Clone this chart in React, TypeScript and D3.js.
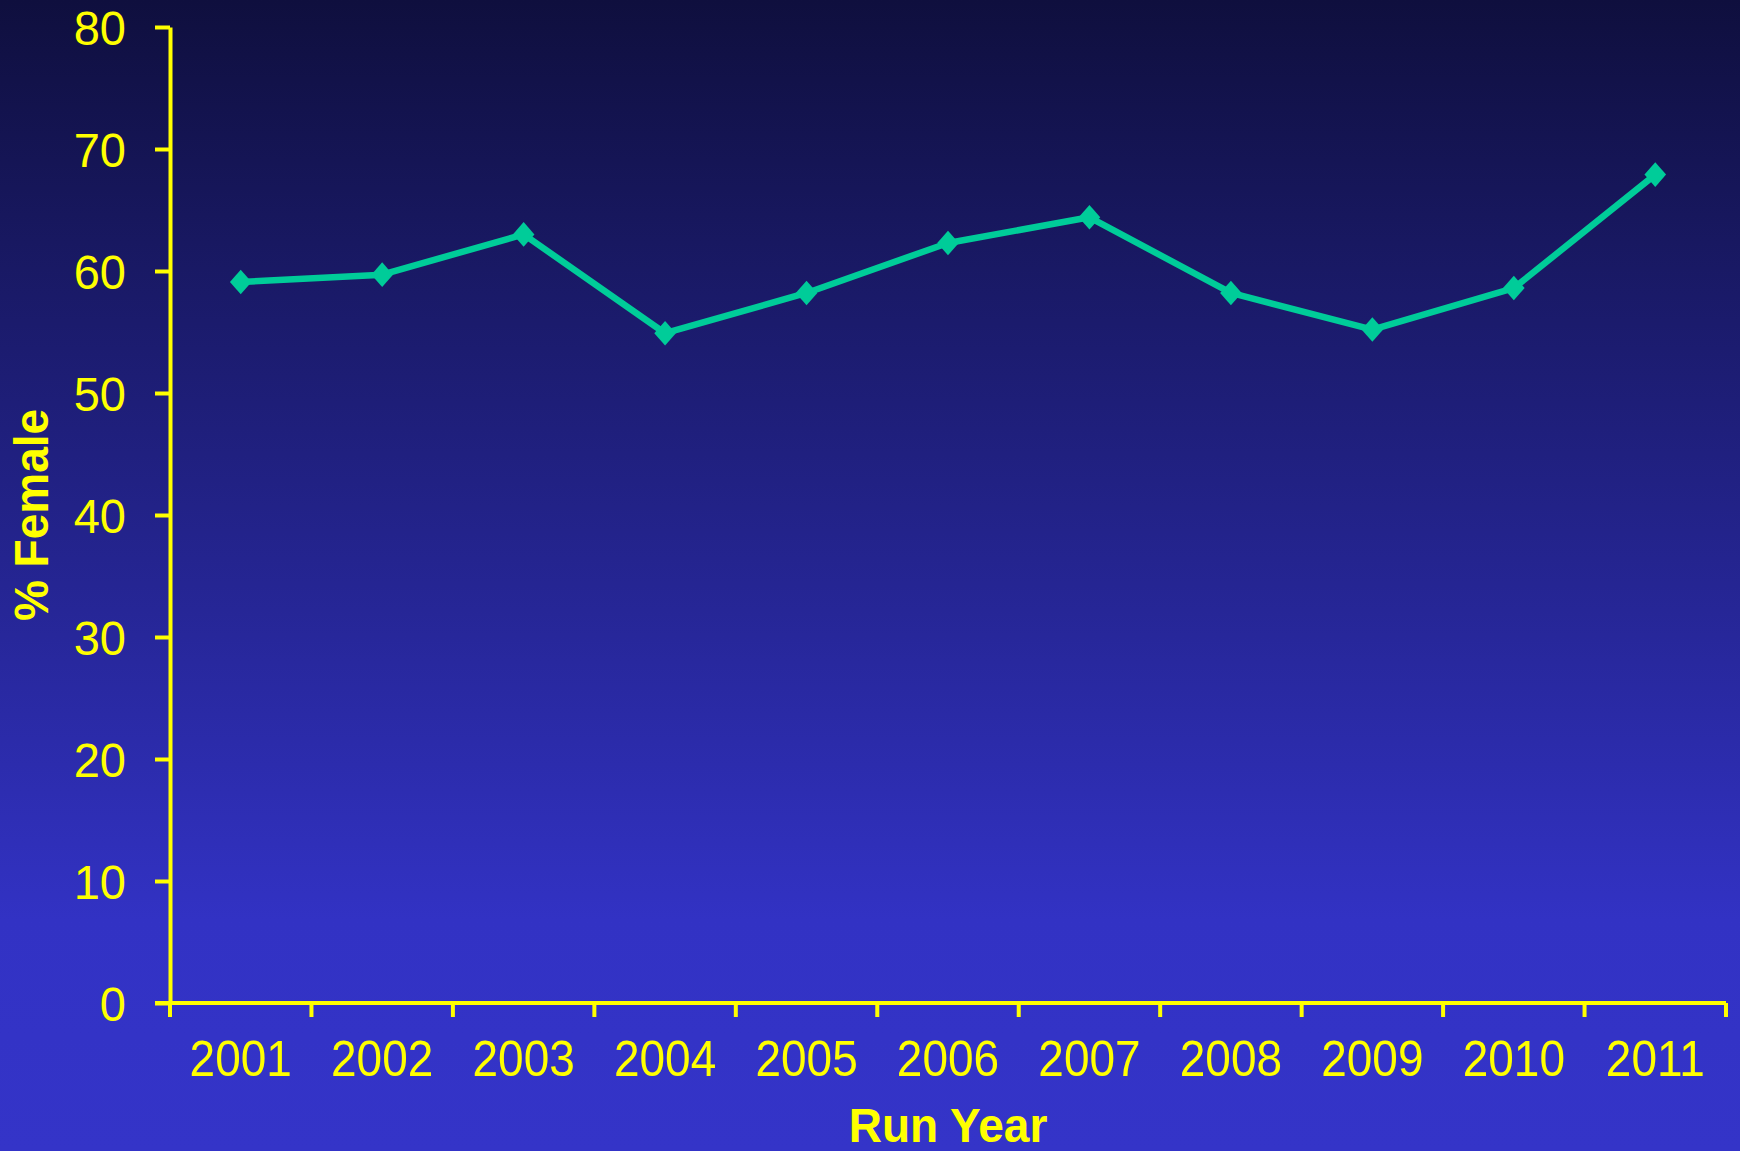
import { useEffect, useRef } from 'react'
import * as d3 from 'd3'

const years = ['2001', '2002', '2003', '2004', '2005', '2006', '2007', '2008', '2009', '2010', '2011']
const pctFemale = [59.1, 59.7, 63.0, 54.9, 58.2, 62.3, 64.4, 58.2, 55.2, 58.6, 67.9]
const yTicks = [0, 10, 20, 30, 40, 50, 60, 70, 80]

const W = 1740
const H = 1151
const margin = { top: 27, right: 14, bottom: 148, left: 170 }
const yellow = '#ffff00'
const teal = '#00cc99'
const font = '"Liberation Sans", Arial, sans-serif'

export default function App() {
  const svgRef = useRef<SVGSVGElement>(null)

  useEffect(() => {
    if (!svgRef.current) return
    const svg = d3.select(svgRef.current)
    svg.selectAll('*').remove()

    const innerWidth = W - margin.left - margin.right
    const innerHeight = H - margin.top - margin.bottom

    // background gradient
    const defs = svg.append('defs')
    const grad = defs.append('linearGradient')
      .attr('id', 'bg')
      .attr('x1', 0).attr('y1', 0).attr('x2', 0).attr('y2', 1)
    grad.append('stop').attr('offset', '0%').attr('stop-color', '#0f0f3e')
    grad.append('stop').attr('offset', '35%').attr('stop-color', '#1e1e78')
    grad.append('stop').attr('offset', '80%').attr('stop-color', '#3232c4')
    grad.append('stop').attr('offset', '100%').attr('stop-color', '#3434c8')
    svg.append('rect').attr('width', W).attr('height', H).attr('fill', 'url(#bg)')

    const x = d3.scaleBand().domain(years).range([0, innerWidth])
    const y = d3.scaleLinear().domain([0, 80]).range([innerHeight, 0])

    const g = svg.append('g')
      .attr('transform', `translate(${margin.left},${margin.top})`)

    // y axis
    const yAxis = g.append('g')
      .call(d3.axisLeft(y).tickValues(yTicks).tickSize(15).tickPadding(29).tickSizeOuter(0))
    yAxis.select('.domain').attr('stroke', yellow).attr('stroke-width', 4)
    yAxis.selectAll('.tick line').attr('stroke', yellow).attr('stroke-width', 4)
    yAxis.selectAll('.tick text')
      .attr('fill', yellow)
      .attr('transform', 'scale(1,1.04)')
      .style('font-family', font)
      .style('font-size', '47px')
      .attr('dy', '0.36em')

    // x axis: ticks at band boundaries
    const xAxis = g.append('g').attr('transform', `translate(0,${innerHeight})`)
    xAxis.append('line')
      .attr('x1', -15).attr('x2', innerWidth)
      .attr('stroke', yellow).attr('stroke-width', 4)
    const bounds = years.map(d => x(d) as number).concat([innerWidth])
    xAxis.selectAll('.xt')
      .data(bounds)
      .enter().append('line')
      .attr('x1', d => d).attr('x2', d => d)
      .attr('y1', 0).attr('y2', 14)
      .attr('stroke', yellow).attr('stroke-width', 4)
    xAxis.selectAll('.xl')
      .data(years)
      .enter().append('text')
      .attr('transform', d => `translate(${(x(d) as number) + x.bandwidth() / 2},73) scale(1,1.1)`)
      .attr('text-anchor', 'middle')
      .attr('fill', yellow)
      .style('font-family', font)
      .style('font-size', '46px')
      .text(d => d)

    // axis titles
    svg.append('text')
      .attr('transform', `translate(${margin.left + innerWidth / 2},1142) scale(1,1.05)`)
      .attr('text-anchor', 'middle')
      .attr('fill', yellow)
      .style('font-family', font)
      .style('font-size', '46px')
      .style('font-weight', 'bold')
      .text('Run Year')

    svg.append('text')
      .attr('transform', `translate(48,${margin.top + innerHeight / 2}) rotate(-90) scale(1,1.05)`)
      .attr('text-anchor', 'middle')
      .attr('fill', yellow)
      .style('font-family', font)
      .style('font-size', '46px')
      .style('font-weight', 'bold')
      .text('% Female')

    // line
    const cx = (d: string) => (x(d) as number) + x.bandwidth() / 2
    const line = d3.line<number>()
      .x((_, i) => cx(years[i]))
      .y(d => y(d))

    g.append('path')
      .datum(pctFemale)
      .attr('fill', 'none')
      .attr('stroke', teal)
      .attr('stroke-width', 6.5)
      .attr('stroke-linejoin', 'round')
      .attr('d', line)

    // diamond markers
    const diamond = d3.symbol().type(d3.symbolDiamond2).size(330)
    g.selectAll('.dot')
      .data(pctFemale)
      .enter().append('path')
      .attr('class', 'dot')
      .attr('transform', (d, i) => `translate(${cx(years[i])},${y(d)}) scale(0.95,1.08)`)
      .attr('d', diamond)
      .attr('fill', teal)
  }, [])

  return (
    <svg
      ref={svgRef}
      width={W}
      height={H}
      style={{ position: 'absolute', left: 0, top: 0, display: 'block' }}
    />
  )
}
